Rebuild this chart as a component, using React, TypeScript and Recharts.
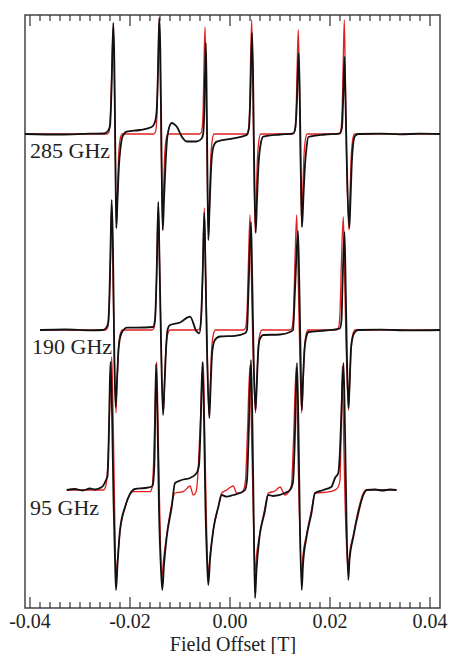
import { LineChart, Line, XAxis, YAxis, ReferenceArea } from 'recharts';

// field offset in mT, signal in arbitrary units (baseline = 0)
const exp285: [number, number][] = [
  [-41, 0], [-34, -0.5], [-28, 0.3], [-25.2, 0.5], [-24.4, 3], [-24.0, 8], [-23.7, 44], [-23.34, 111],
  [-23.14, 74], [-22.94, -16], [-22.74, -94], [-22.5, -66], [-22.2, -31], [-21.9, -14], [-21.46, -2],
  [-20.66, 2.3], [-18, 4], [-15.66, 7], [-15.0, 12], [-14.66, 24], [-14.4, 64], [-14.14, 116],
  [-13.94, 84], [-13.7, -16], [-13.44, -96], [-13.2, -66], [-12.9, -31], [-12.6, -6], [-12.3, 4],
  [-11.66, 11], [-11.2, 10], [-10.6, 7], [-9.66, -2.5], [-8.66, -7.5], [-6.66, -7.5], [-5.66, -4.5],
  [-5.34, 1], [-5.14, 24], [-4.94, 74], [-4.84, 91], [-4.7, 54], [-4.54, -26], [-4.34, -106],
  [-4.1, -76], [-3.8, -36], [-3.34, -13], [-2.66, -7.7], [0.66, -4.3], [3.34, -1], [3.8, 6],
  [4.1, 44], [4.4, 101], [4.6, 64], [4.8, -16], [5.14, -99], [5.4, -66], [5.7, -31], [6.1, -11],
  [6.66, -2.7], [10, -0.5], [12.66, 0.7], [13.1, 7], [13.4, 34], [13.74, 81], [13.94, 44],
  [14.14, -26], [14.4, -93], [14.7, -61], [15.0, -31], [15.3, -14], [15.66, -3], [19, -0.5],
  [22, 0.7], [22.4, 7], [22.66, 39], [22.9, 77], [23.1, 34], [23.4, -36], [23.86, -94], [24.1, -66],
  [24.34, -31], [24.66, -9], [25.0, -2], [25.66, 0], [30, 0.4], [34, -0.3], [38, 0.3], [42, 0],
];

const sim285: [number, number][] = [
  [-41, 0], [-24.6, 0], [-24.2, 2], [-23.9, 20], [-23.6, 70], [-23.34, 108], [-23.14, 60], [-22.94, -20],
  [-22.74, -94], [-22.5, -60], [-22.3, -25], [-22.0, -6], [-21.6, 0],
  [-15.3, 0], [-14.9, 2], [-14.6, 20], [-14.35, 75], [-14.14, 116], [-13.94, 60], [-13.74, -20],
  [-13.5, -96], [-13.3, -60], [-13.1, -25], [-12.8, -6], [-12.4, 0],
  [-6.1, 0], [-5.7, 2], [-5.4, 20], [-5.2, 70], [-5.0, 107], [-4.8, 60], [-4.6, -20], [-4.3, -104],
  [-4.1, -70], [-3.9, -30], [-3.6, -8], [-3.2, 0],
  [3.2, 0], [3.6, 2], [3.9, 20], [4.1, 70], [4.34, 114], [4.54, 60], [4.74, -20], [5.04, -98],
  [5.24, -65], [5.44, -30], [5.74, -8], [6.14, 0],
  [12.5, 0], [12.9, 2], [13.2, 20], [13.44, 70], [13.66, 104], [13.86, 55], [14.06, -20], [14.34, -93],
  [14.54, -60], [14.74, -28], [15.04, -7], [15.44, 0],
  [21.7, 0], [22.1, 2], [22.4, 20], [22.64, 70], [22.86, 114], [23.06, 60], [23.3, -20], [23.8, -96],
  [24.0, -62], [24.2, -28], [24.5, -7], [24.9, 0], [42, 0],
];

const exp190: [number, number][] = [
  [-38, 0], [-33, 0.5], [-28, -0.3], [-25.4, 0], [-24.8, 2], [-24.4, 6], [-24.2, 20], [-23.9, 80],
  [-23.66, 130], [-23.4, 80], [-23.2, 0], [-22.9, -77], [-22.6, -50], [-22.3, -20], [-21.9, -6],
  [-21.3, 0], [-20.66, 2.3], [-17, 2.5], [-15.4, 3], [-15.0, 10], [-14.7, 50], [-14.34, 128],
  [-14.1, 70], [-13.8, -10], [-13.4, -85], [-13.1, -55], [-12.8, -20], [-12.5, 0], [-12, 5],
  [-10, 7.5], [-8, 13.3], [-6.66, -1.7], [-6.14, -3.3], [-5.8, 10], [-5.5, 50], [-5.14, 117],
  [-4.9, 60], [-4.6, -20], [-4.14, -88], [-3.9, -60], [-3.6, -25], [-3.2, -12], [-2.66, -8],
  [-2, -6.5], [1, -5.8], [3, -3.3], [3.4, 0], [3.7, 40], [4.2, 108], [4.45, 50], [4.7, -20],
  [5.1, -80], [5.35, -55], [5.6, -25], [5.9, -10], [6.66, -5], [10, -4.5], [12, -2], [12.6, 0],
  [13.0, 40], [13.6, 99], [13.85, 50], [14.1, -20], [14.34, -80], [14.6, -50], [14.9, -20],
  [15.3, -6], [15.7, -2], [19, -0.5], [22, 1.7], [22.3, 10], [22.5, 45], [22.9, 98], [23.15, 40],
  [23.4, -30], [23.7, -78], [23.95, -50], [24.2, -18], [24.6, -6], [25.0, -2], [25.6, 0],
  [30, 0.3], [36, -0.3], [42, 0],
];

const sim190: [number, number][] = [
  [-38, 0], [-24.9, 0], [-24.5, 2], [-24.2, 18], [-23.9, 70], [-23.66, 125], [-23.45, 70], [-23.2, -10],
  [-22.8, -83], [-22.6, -55], [-22.35, -22], [-22.0, -5], [-21.5, 0],
  [-15.6, 0], [-15.2, 2], [-14.9, 18], [-14.6, 70], [-14.34, 125], [-14.1, 70], [-13.8, -10],
  [-13.34, -83], [-13.1, -55], [-12.85, -22], [-12.5, -5], [-12.0, 0],
  [-6.4, 0], [-6.0, 2], [-5.7, 18], [-5.4, 70], [-5.14, 122], [-4.9, 65], [-4.6, -10], [-4.2, -85],
  [-3.95, -55], [-3.7, -22], [-3.35, -5], [-2.9, 0],
  [2.7, 0], [3.1, 2], [3.4, 18], [3.7, 70], [4.0, 115], [4.25, 60], [4.55, -10], [5.1, -83],
  [5.35, -55], [5.6, -22], [5.95, -5], [6.4, 0],
  [12.0, 0], [12.4, 2], [12.7, 18], [13.0, 70], [13.34, 115], [13.6, 60], [13.9, -10], [14.34, -83],
  [14.6, -55], [14.85, -22], [15.2, -5], [15.6, 0],
  [21.3, 0], [21.7, 2], [22.0, 18], [22.3, 70], [22.66, 113], [22.9, 60], [23.2, -10], [23.7, -80],
  [23.95, -52], [24.2, -22], [24.55, -5], [25.0, 0], [42, 0],
];

const exp95: [number, number][] = [
  [-32.66, 0], [-31, 1], [-29.5, -0.5], [-28, 1.5], [-27, 0.5], [-26, 2], [-25.4, 4], [-24.8, 10],
  [-24.5, 14], [-24.3, 40], [-24.1, 90], [-23.9, 128], [-23.6, 80], [-23.3, -10], [-23.0, -70],
  [-22.8, -100], [-22.5, -75], [-22.0, -40], [-21.0, -17], [-20.0, -4], [-19.0, 1], [-17.0, 2],
  [-15.6, 3.5], [-15.4, 6], [-15.1, 30], [-14.8, 126], [-14.5, 70], [-14.2, -20], [-13.8, -80],
  [-13.54, -100], [-13.2, -75], [-12.66, -47], [-11.66, -17], [-11.0, 7], [-9.66, 10], [-8.0, 12],
  [-6.66, 17], [-6.2, 25], [-5.9, 60], [-5.5, 128], [-5.2, 70], [-4.9, -20], [-4.6, -70],
  [-4.34, -95], [-4.0, -70], [-3.34, -40], [-2.34, -17], [-1.66, -5], [-0.66, -6.7], [0.66, -5],
  [2.0, -3], [3.0, 0], [3.4, 10], [3.7, 50], [4.2, 130], [4.5, 60], [4.75, -30], [5.0, -108],
  [5.3, -80], [5.9, -47], [6.9, -23], [7.66, -5], [8.66, -6], [11.0, -3], [12.0, 0], [12.6, 8],
  [12.9, 40], [13.4, 127], [13.7, 60], [14.0, -40], [14.34, -100], [14.6, -75], [15.3, -47],
  [16.3, -23], [17.0, -3], [18.66, 0], [20.3, 3.3], [21.0, 12], [21.66, 17], [22.0, 40], [22.3, 80],
  [22.7, 127], [23.0, 60], [23.3, -30], [23.66, -90], [23.9, -70], [24.66, -47], [25.66, -23],
  [26.66, -5], [27.34, 0], [29, 0.5], [30.5, -0.5], [32, 0.5], [33.3, 0],
];

const sim95: [number, number][] = [
  [-32.66, 0], [-25.3, 0], [-24.8, 5], [-24.4, 30], [-24.0, 90], [-23.66, 133], [-23.4, 80],
  [-23.1, -10], [-22.8, -87], [-22.5, -70], [-22.0, -42], [-21.0, -18], [-20.0, -4], [-19.4, -1.7],
  [-16.0, -1.7], [-15.6, 2], [-15.3, 25], [-15.0, 80], [-14.66, 128], [-14.4, 70], [-14.1, -10],
  [-13.6, -87], [-13.3, -70], [-12.66, -45], [-11.8, -18], [-11.0, -3], [-9.34, -1.7], [-8.0, 4],
  [-7.34, -5], [-6.8, -2], [-6.5, 10], [-6.0, 60], [-5.34, 127], [-5.1, 70], [-4.8, -10],
  [-4.34, -82], [-4.0, -65], [-3.34, -40], [-2.34, -17], [-1.66, -3], [-0.66, 0], [0.66, 4],
  [1.34, -3], [2.0, -3], [2.7, 0], [3.1, 10], [3.5, 60], [4.0, 125], [4.3, 60], [4.6, -10],
  [5.0, -82], [5.3, -65], [5.9, -45], [6.9, -20], [7.66, -3], [9.0, -1], [9.66, 2], [10.0, 3],
  [11.0, -5], [11.8, -1.7], [12.3, 5], [12.7, 50], [13.26, 124], [13.5, 60], [13.8, -10],
  [14.34, -82], [14.6, -65], [15.3, -45], [16.3, -20], [17.0, -3.3], [20.0, -1.7], [21.0, 0],
  [21.66, 3.3], [22.0, 10], [22.2, 50], [22.46, 124], [22.7, 60], [23.0, -10], [23.66, -80],
  [23.9, -65], [24.66, -45], [25.66, -20], [26.66, -3], [27.34, 0], [33.3, 0],
];

// vertical stacking of the three spectra
const offsets = { f285: 474, f190: 278, f95: 118 };
const freqLabels = ['285 GHz', '190 GHz', '95 GHz'];

const majorTicks = [-0.04, -0.02, 0, 0.02, 0.04];
const tickLabels = ['-0.04', '-0.02', '0.00', '0.02', '0.04'];
const minorTicks: number[] = [];
for (let i = -20; i <= 20; i++) {
  if (i % 10 !== 0) minorTicks.push(i * 0.002);
}
const allTicks = [...majorTicks, ...minorTicks].sort((a, b) => a - b);

const toSeries = (pts: [number, number][], offset: number) =>
  pts.map(([mT, v]) => ({ x: mT / 1000, y: v + offset }));

const PLOT_TOP = 15;
const PLOT_BOTTOM = 608;
const FONT = '"Liberation Serif", "Times New Roman", serif';

function AxisTick(props: any) {
  const { x, payload } = props;
  const idx = majorTicks.findIndex((t) => Math.abs(t - payload.value) < 1e-6);
  const len = idx >= 0 ? 11 : 6;
  return (
    <g>
      <line x1={x} x2={x} y1={PLOT_BOTTOM} y2={PLOT_BOTTOM - len} stroke="#333" strokeWidth={1.2} />
      <line x1={x} x2={x} y1={PLOT_TOP} y2={PLOT_TOP + len} stroke="#333" strokeWidth={1.2} />
      {idx >= 0 && (
        <text x={x} y={628} textAnchor="middle" fontFamily={FONT} fontSize={20} fill="#222">
          {tickLabels[idx]}
        </text>
      )}
    </g>
  );
}

export default function App() {
  const RED = '#e0201e';
  const BLACK = '#111';
  const lineType = 'monotoneX';
  return (
    <div style={{ position: 'fixed', left: 0, top: 0, width: 450, height: 654, background: '#fff' }}>
      <LineChart width={450} height={654} margin={{ top: 15, right: 10, bottom: 0, left: 25 }}>
        <XAxis
          type="number"
          dataKey="x"
          domain={[-0.041, 0.042]}
          ticks={allTicks}
          interval={0}
          allowDataOverflow
          tickLine={false}
          axisLine={false}
          height={46}
          tick={(p: any) => <AxisTick {...p} />}
        />
        <YAxis type="number" dataKey="y" domain={[0, 593]} hide allowDataOverflow />
        <ReferenceArea x1={-0.041} x2={0.042} y1={0} y2={593} fill="none" stroke="#444" strokeWidth={1.5} />
        <Line type={lineType} data={toSeries(sim285, offsets.f285)} dataKey="y" stroke={RED} strokeWidth={1.3} dot={false} isAnimationActive={false} />
        <Line type={lineType} data={toSeries(exp285, offsets.f285)} dataKey="y" stroke={BLACK} strokeWidth={1.8} dot={false} isAnimationActive={false} />
        <Line type={lineType} data={toSeries(sim190, offsets.f190)} dataKey="y" stroke={RED} strokeWidth={1.3} dot={false} isAnimationActive={false} />
        <Line type={lineType} data={toSeries(exp190, offsets.f190)} dataKey="y" stroke={BLACK} strokeWidth={1.8} dot={false} isAnimationActive={false} />
        <Line type={lineType} data={toSeries(sim95, offsets.f95)} dataKey="y" stroke={RED} strokeWidth={1.3} dot={false} isAnimationActive={false} />
        <Line type={lineType} data={toSeries(exp95, offsets.f95)} dataKey="y" stroke={BLACK} strokeWidth={1.8} dot={false} isAnimationActive={false} />
      </LineChart>
      <svg width={450} height={654} style={{ position: 'absolute', left: 0, top: 0, pointerEvents: 'none' }}>
        <g fontFamily={FONT} fontSize={22} fill="#222">
          <text x={30} y={158}>{freqLabels[0]}</text>
          <text x={32} y={354}>{freqLabels[1]}</text>
          <text x={30} y={515}>{freqLabels[2]}</text>
          <text x={233} y={651} textAnchor="middle" fontSize={20}>Field Offset [T]</text>
        </g>
      </svg>
    </div>
  );
}
